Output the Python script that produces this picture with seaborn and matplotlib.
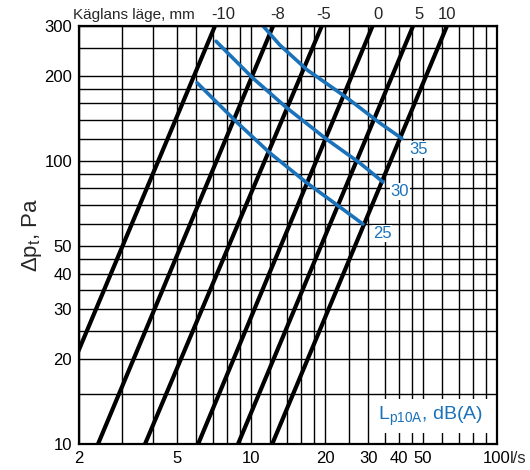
import matplotlib
matplotlib.use("Agg")
import matplotlib.pyplot as plt
import pandas as pd
import seaborn as sns
from matplotlib.ticker import FixedLocator, FixedFormatter, NullLocator

# cone position lines (Käglans läge, mm): flow in l/s where each line meets 10 Pa and 300 Pa
positions = ["-10", "-8", "-5", "0", "5", "10"]
q_at_10pa = [1.38, 2.39, 3.71, 6.10, 8.86, 12.2]
q_at_300pa = [7.14, 12.3, 19.4, 31.2, 45.6, 62.6]
dp_ends = [10, 300]

# sound level curves, Lp10A dB(A)
levels = ["25", "30", "35"]
q_25 = [6.04, 8.77, 11.9, 16.9, 22.4, 28.5]
dp_25 = [189, 137, 107, 83.6, 69.9, 59.9]
q_30 = [7.21, 10.2, 14.0, 20.4, 27.7, 34.4]
dp_30 = [265, 196, 154, 119, 98.4, 84.3]
q_35 = [11.2, 13.1, 16.9, 24.6, 33.5, 41.1]
dp_35 = [300, 257, 210, 167, 136, 120]

# grid and labels
x_grid = [2, 3, 4, 5, 6, 7, 8, 9, 10, 12, 14, 16, 18, 20, 25, 30, 35, 40, 45, 50, 60, 70, 80, 90, 100]
x_labeled = {2: "2", 5: "5", 10: "10", 20: "20", 30: "30", 40: "40", 50: "50", 100: "100"}
y_grid = [10, 15, 20, 25, 30, 35, 40, 45, 50, 60, 70, 80, 90, 100, 120, 140, 160, 180, 200, 250, 300]
y_labeled = {10: "10", 20: "20", 30: "30", 40: "40", 50: "50", 100: "100", 200: "200", 300: "300"}

BLUE = "#1a72bb"

sns.set_theme(style="white")
plt.rcParams["font.family"] = ["Liberation Sans", "DejaVu Sans"]
plt.rcParams["mathtext.fontset"] = "custom"
plt.rcParams["mathtext.rm"] = "Liberation Sans"
plt.rcParams["mathtext.it"] = "Liberation Sans"

fig = plt.figure(figsize=(5.3, 4.7), dpi=100)
ax = fig.add_axes([79 / 530, 1 - 444 / 470, 418 / 530, 418 / 470])
ax.set_xscale("log")
ax.set_yscale("log")
ax.set_xlim(2, 100)
ax.set_ylim(10, 300)

ax.xaxis.set_major_locator(FixedLocator(x_grid))
ax.xaxis.set_major_formatter(FixedFormatter([x_labeled.get(v, "") for v in x_grid]))
ax.xaxis.set_minor_locator(NullLocator())
ax.yaxis.set_major_locator(FixedLocator(y_grid))
ax.yaxis.set_major_formatter(FixedFormatter([y_labeled.get(v, "") for v in y_grid]))
ax.yaxis.set_minor_locator(NullLocator())
ax.tick_params(length=0, labelsize=12, colors="black", pad=5)
ax.grid(True, color="black", linewidth=1.0)
ax.set_axisbelow(True)
for s in ax.spines.values():
    s.set_color("black")
    s.set_linewidth(1.6)
    s.set_zorder(5)

# black cone-position lines, label nudges in points
label_dx = [6, 3, 1, 4, 4, 0]
for name, q0, q1, dx in zip(positions, q_at_10pa, q_at_300pa, label_dx):
    d = pd.DataFrame({"q": [q0, q1], "dp": dp_ends})
    sns.lineplot(data=d, x="q", y="dp", ax=ax, color="black", linewidth=3.0, zorder=3)
    ax.annotate(name, xy=(q1, 1.0), xycoords=("data", "axes fraction"),
                xytext=(dx, 5), textcoords="offset points",
                ha="center", va="baseline", fontsize=12, annotation_clip=False)

# blue sound-level curves
for name, qs, dps, off in zip(levels, [q_25, q_30, q_35], [dp_25, dp_30, dp_35],
                              [(14, -7), (12, -7), (12, -8)]):
    d = pd.DataFrame({"q": qs, "dp": dps})
    sns.lineplot(data=d, x="q", y="dp", ax=ax, color=BLUE, linewidth=2.6, zorder=4)
    ax.annotate(name, xy=(qs[-1], dps[-1]), xytext=off, textcoords="offset points",
                ha="center", va="center", fontsize=12, color=BLUE, zorder=6,
                bbox=dict(boxstyle="square,pad=0.05", fc="white", ec="none"))

ax.set_xlabel("")
ax.set_ylabel(r"Δp$_{\mathrm{t}}$, Pa", fontsize=16, labelpad=0)

ax.annotate("Käglans läge, mm", xy=(-0.015, 1.0), xycoords="axes fraction",
            xytext=(0, 5), textcoords="offset points",
            ha="left", va="baseline", fontsize=11, annotation_clip=False)
ax.annotate("l/s", xy=(1.0, 0.0), xycoords="axes fraction", xytext=(9, -5),
            textcoords="offset points", ha="left", va="top", fontsize=12,
            annotation_clip=False)

ax.text(0.84, 0.067, r"L$_{\mathrm{p10A}}$, dB(A)", transform=ax.transAxes,
        ha="center", va="center", fontsize=14, color=BLUE, zorder=6,
        bbox=dict(boxstyle="square,pad=0.3", fc="white", ec="none"))

fig.savefig("out.png", dpi=100)
